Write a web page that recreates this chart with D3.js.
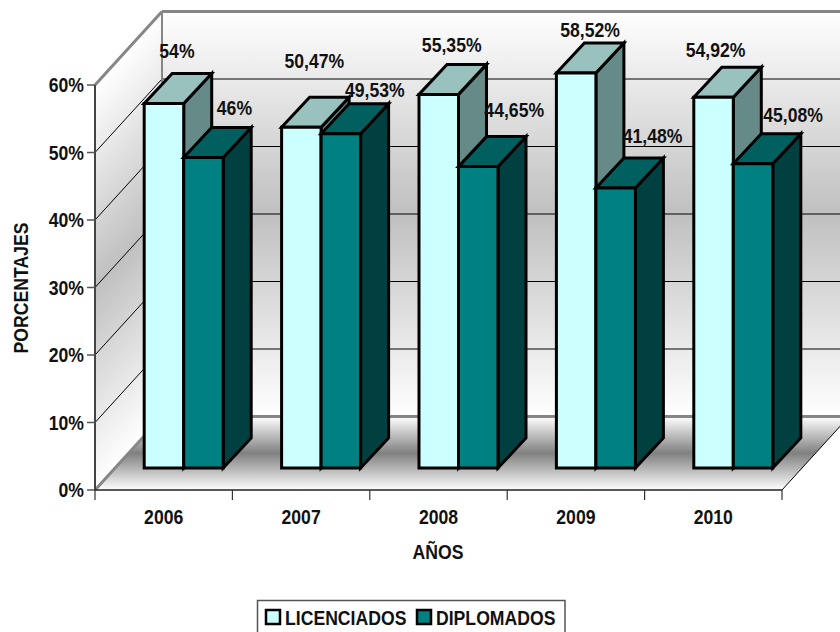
<!DOCTYPE html>
<html><head><meta charset="utf-8">
<script src="https://cdnjs.cloudflare.com/ajax/libs/d3/7.8.5/d3.min.js"></script>
<style>html,body{margin:0;padding:0;background:#fff;overflow:hidden}svg{display:block}
text{font-family:"Liberation Sans",sans-serif;font-weight:bold;fill:#111;font-size:20.5px}</style>
</head><body><svg id="c" width="840" height="632"></svg>
<script>
const years=["2006","2007","2008","2009","2010"];
const licenciados=[54,50.47,55.35,58.52,54.92];
const diplomados=[46,49.53,44.65,41.48,45.08];
const licLabels=["54%","50,47%","55,35%","58,52%","54,92%"];
const dipLabels=["46%","49,53%","44,65%","41,48%","45,08%"];
const yTicks=[0,10,20,30,40,50,60];
const seriesNames=["LICENCIADOS","DIPLOMADOS"];

// layout (hand-placed label nudges from the original chart)
const licNudge=[[13,-53],[13,-66],[13,-49],[14,-43],[2,-47]];
const dipNudge=[[31,-50],[34,-44],[36,-57],[37,-52],[40,-49]];
const W=840,H=632,x0=95,x1=782,y0=490,yTop=85,wallDx=67,wallDy=-73.5,barDx=28,barDy=-30,shiftX=20,shiftY=-22,barW=39.5,narrow=0.86;

const svg=d3.select("#c");
const x=d3.scaleBand().domain(years).range([x0,x1]);
const y=d3.scaleLinear().domain([0,60]).range([y0,yTop]);
const defs=svg.append("defs");
function grad(id,p0,p1,stops){
  const g=defs.append("linearGradient").attr("id",id).attr("gradientUnits","userSpaceOnUse")
    .attr("x1",p0[0]).attr("y1",p0[1]).attr("x2",p1[0]).attr("y2",p1[1]);
  stops.forEach(s=>g.append("stop").attr("offset",s[0]).attr("stop-color",s[1]));
}
const wallStops=[[0,"#ffffff"],[0.5,"#c0c0c0"],[1,"#ffffff"]];
const floorStops=[[0,"#ffffff"],[0.5,"#808080"],[1,"#ffffff"]];
grad("back",[0,y(60)+wallDy],[0,y0+wallDy],wallStops);
const h=y0-y(60),k=h*wallDx/(wallDx*wallDx+wallDy*wallDy);
grad("left",[x0,y(60)],[x0-wallDy*k,y(60)+wallDx*k],wallStops);
grad("floor",[0,y0+wallDy],[0,y0],floorStops);
const line=d3.line();
const poly=(pts,fill,stroke,sw)=>svg.append("path").attr("d",line(pts)+"Z").attr("fill",fill)
  .attr("stroke",stroke||"none").attr("stroke-width",sw||0).attr("stroke-linejoin","miter");
const seg=(a,b,stroke,sw)=>svg.append("line").attr("x1",a[0]).attr("y1",a[1]).attr("x2",b[0]).attr("y2",b[1])
  .attr("stroke",stroke).attr("stroke-width",sw);
const label=(px,py,str,anchor,rot)=>svg.append("text").attr("text-anchor",anchor||"middle")
  .attr("transform",`translate(${px},${py})${rot?` rotate(${rot})`:""} scale(${narrow},1)`).text(str);

// walls and floor
const bx=x0+wallDx, bxR=x1+wallDx;
poly([[bx,y(60)+wallDy],[bxR,y(60)+wallDy],[bxR,y0+wallDy],[bx,y0+wallDy]],"url(#back)");
poly([[x0,y(60)],[bx,y(60)+wallDy],[bx,y0+wallDy],[x0,y0]],"url(#left)");
poly([[x0,y0],[bx,y0+wallDy],[bxR,y0+wallDy],[x1,y0]],"url(#floor)");
// gridlines
yTicks.filter(t=>t>0&&t<60).forEach(t=>{
  seg([x0,y(t)],[bx,y(t)+wallDy],"#000",1);
  seg([bx,y(t)+wallDy],[bxR,y(t)+wallDy],"#000",1);
});
const grey="#868686";
seg([x0,y(60)],[bx,y(60)+wallDy],grey,3);
seg([bx,y(60)+wallDy],[bxR,y(60)+wallDy],grey,3);
seg([bx,y(60)+wallDy],[bx,y0+wallDy],grey,2);
seg([bx,y0+wallDy],[bxR,y0+wallDy],grey,3);
seg([x0,y0],[bx,y0+wallDy],grey,3);
seg([x1,y0],[bxR,y0+wallDy],"#000",1);

// bars
function bar(xl,v,c){
  const base=y0+shiftY, top=y(v)+shiftY, xr=xl+barW;
  poly([[xr,top],[xr+barDx,top+barDy],[xr+barDx,base+barDy],[xr,base]],c.side,"#000",3);
  poly([[xl,top],[xl+barDx,top+barDy],[xr+barDx,top+barDy],[xr,top]],c.top,"#000",3);
  poly([[xl,top],[xr,top],[xr,base],[xl,base]],c.front,"#000",3);
}
const colL={front:"#ccffff",top:"#99c2bf",side:"#668a88"};
const colD={front:"#008080",top:"#006060",side:"#004040"};
const offset=(x.bandwidth()-2*barW)/2;
years.forEach((yr,i)=>{
  const xl=x(yr)+shiftX+offset;
  bar(xl,licenciados[i],colL);
  bar(xl+barW,diplomados[i],colD);
});
// labels
years.forEach((yr,i)=>{
  const xl=x(yr)+shiftX+offset;
  label(xl+barW/2+licNudge[i][0],y(licenciados[i])+shiftY+licNudge[i][1]+7,licLabels[i]);
  label(xl+barW*1.5+dipNudge[i][0],y(diplomados[i])+shiftY+dipNudge[i][1]+7,dipLabels[i]);
});
// axes
seg([x0,y(60)],[x0,y0],"#444",2);
seg([x0,y0],[x1,y0],"#222",1.5);
yTicks.forEach(t=>{
  seg([x0-8,y(t)],[x0,y(t)],"#555",1.5);
  label(x0-11,y(t)+7,t+"%","end");
});
x.domain().concat(["end"]).forEach((yr,i)=>{
  const px=x0+i*x.bandwidth();
  seg([px,y0],[px,y0+10],"#333",1.2);
});
years.forEach(yr=>label(x(yr)+x.bandwidth()/2,524,yr));
label(438,559,"AÑOS");
label(28,288,"PORCENTAJES","middle",-90);
// legend
svg.append("path").attr("d","M257.5,634V600.5H565V634").attr("fill","#fff").attr("stroke","#555").attr("stroke-width",1.5);
[[266,colL.front,285],[417,colD.front,436]].forEach((l,i)=>{
  svg.append("rect").attr("x",l[0]).attr("y",610).attr("width",14).attr("height",14).attr("fill",l[1]).attr("stroke","#000").attr("stroke-width",2.5);
  label(l[2],625,seriesNames[i],"start");
});
</script></body></html>
